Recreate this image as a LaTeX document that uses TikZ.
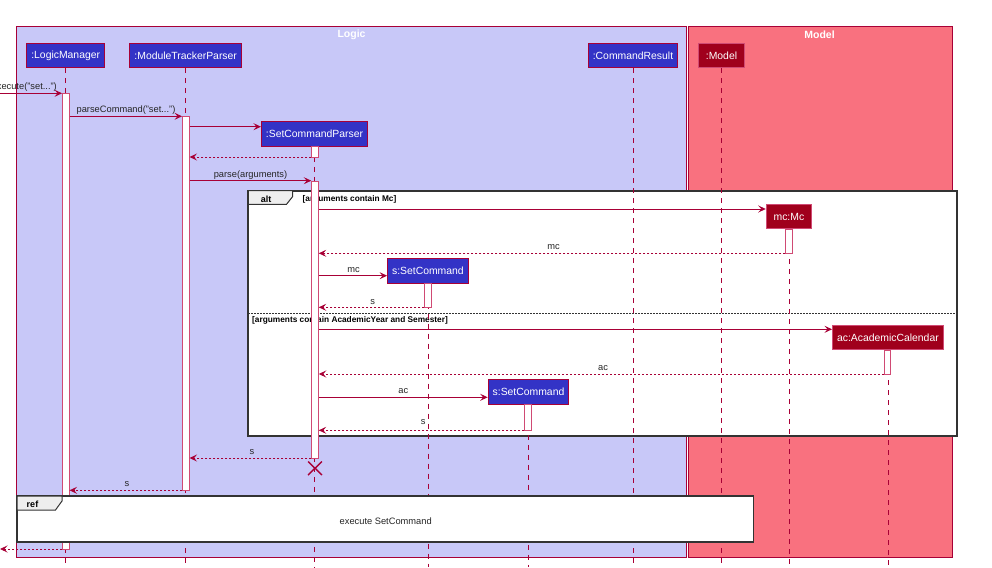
\documentclass[tikz,border=0pt]{standalone}
\usepackage{fontspec}
\setmainfont{Liberation Sans}
\usetikzlibrary{arrows.meta}
\definecolor{logicfill}{HTML}{C8C8F8}
\definecolor{modelfill}{HTML}{F9717F}
\definecolor{crim}{HTML}{A80036}
\definecolor{partblue}{HTML}{3333C6}
\definecolor{partred}{HTML}{A0001C}
\definecolor{actborder}{HTML}{D04A74}
\definecolor{framec}{HTML}{333333}
\definecolor{tabfill}{HTML}{EEEEEE}
\pgfdeclarelayer{bg}
\pgfdeclarelayer{frames}
\pgfdeclarelayer{top}
\pgfsetlayers{bg,frames,main,top}
\tikzset{
  grp/.style={draw=crim, line width=0.8pt},
  grplabel/.style={font=\fontsize{10.5}{12}\selectfont\bfseries, text=white, inner sep=0pt},
  partb/.style={draw=crim, fill=partblue, line width=1pt, text=white, font=\fontsize{10.4}{12}\selectfont, inner xsep=4.5pt, inner ysep=0pt, minimum height=24.5pt},
  partr/.style={draw=actborder, fill=partred, line width=1pt, text=white, font=\fontsize{10.4}{12}\selectfont, inner xsep=4.5pt, inner ysep=0pt, minimum height=24.5pt},
  life/.style={draw=crim, line width=0.8pt, dash pattern=on 5pt off 5pt},
  actbar/.style={draw=actborder, fill=white, line width=1pt, minimum width=6.5pt, inner sep=0pt, anchor=north},
  msg/.style={draw=crim, line width=0.9pt, -{Stealth[length=7.5pt,width=7pt,inset=3pt]}},
  ret/.style={msg, dash pattern=on 2pt off 2pt},
  mlabel/.style={font=\fontsize{9.3}{11}\selectfont, text=black!85, inner sep=0pt, anchor=base},
  frame/.style={draw=framec, line width=1.7pt, fill=white},
  tabs/.style={draw=framec, line width=1pt, fill=tabfill},
  guard/.style={font=\fontsize{8.3}{10}\selectfont\bfseries, text=black, inner sep=0pt, anchor=west},
  tablabel/.style={font=\fontsize{9}{10}\selectfont\bfseries, text=black, inner sep=0pt},
}
\begin{document}
\begin{tikzpicture}[x=1pt,y=-1pt]
\useasboundingbox (0,0) rectangle (992,567);

% groups
\begin{pgfonlayer}{bg}
  \draw[grp, fill=logicfill] (16.3,26) rectangle (686.7,557.7);
  \draw[grp, fill=modelfill] (688,26) rectangle (952.7,557.7);
  \node[grplabel] (logiclbl) at (351.5,34.5) {Logic};
  \node[grplabel] (modellbl) at (819.5,34.5) {Model};
\end{pgfonlayer}

% alt frame
\begin{pgfonlayer}{frames}
  \draw[frame] (248.3,190.7) rectangle (956.7,435.7);
  \draw[tabs] (248.3,190.7) -- (292.7,190.7) -- (292.7,196.5) -- (286.5,204.3) -- (248.3,204.3) -- cycle;
  \node[tablabel] (altlbl) at (266,199.5) {alt};
  \node[guard] (g1) at (302.5,199.7) {[arguments contain Mc]};
  \draw[draw=framec, line width=0.8pt, dash pattern=on 1.5pt off 1.5pt] (248.3,313.7) -- (956.7,313.7);
  \node[guard] (g2) at (252,320.7) {[arguments contain AcademicYear and Semester]};
\end{pgfonlayer}

% participants
\node[partb, minimum width=77pt]    (lm)  at (65.7,55.7)  {:LogicManager};
\node[partb, minimum width=110.3pt] (mtp) at (185.7,55.7) {:ModuleTrackerParser};
\node[partb, minimum width=103.4pt] (scp) at (314.5,134)  {:SetCommandParser};
\node[partb, minimum width=87pt]    (cr)  at (633,55.7)   {:CommandResult};
\node[partr, minimum width=46.6pt]  (mdl) at (721.5,55.7) {:Model};
\node[partr, minimum width=45.3pt]  (mc)  at (788.9,216.7) {mc:Mc};
\node[partb, minimum width=78.7pt]  (s1)  at (427.9,270.9) {s:SetCommand};
\node[partr, minimum width=109.3pt] (ac)  at (887.9,337.5) {ac:AcademicCalendar};
\node[partb, minimum width=78.6pt]  (s2)  at (528.5,392)  {s:SetCommand};

% lifelines
\foreach \p in {lm,mtp,scp,cr,mdl,mc,s1,ac,s2}{
  \draw[life] (\p.south) -- (\p.south |- 0,567);
}

% activations
\node[actbar, minimum height=455.7pt] (lmA)  at (65.8,93.3) {};
\node[actbar, minimum height=374pt]   (mtpA) at (185.8,116.3) {};
\node[actbar, minimum height=11pt]    (scpA1) at (315,146) {};
\node[actbar, minimum height=277.5pt] (scpA2) at (315,180.5) {};
\node[actbar, minimum height=24.3pt]  (mcA)  at (789,229) {};
\node[actbar, minimum height=24.3pt]  (s1A)  at (428,283) {};
\node[actbar, minimum height=24pt]    (acA)  at (887.6,350) {};
\node[actbar, minimum height=26.3pt]  (s2A)  at (528,404) {};

% destroy
\draw[draw=crim, line width=1.4pt] (308,461.5) -- (322,475) (322,461.5) -- (308,475);

% messages
\coordinate (extIn) at (0,93.3);
\coordinate (extOut) at (0,549);
\draw[msg] (extIn) -- (lmA.west |- 0,93.3);
\node[mlabel, anchor=base east] (l1) at (57,89.5) {execute("set...")};

\draw[msg] (lmA.east |- 0,116.3) -- (mtpA.west |- 0,116.3);
\node[mlabel] (l2) at (126,112.5) {parseCommand("set...")};

\draw[msg] (mtpA.east |- 0,126.7) -- (scp.west |- 0,126.7);

\draw[ret] (scpA1.west |- 0,157) -- (mtpA.east |- 0,157);

\draw[msg] (mtpA.east |- 0,180.7) -- (scpA2.west |- 0,180.7);
\node[mlabel] (l3) at (250.5,177) {parse(arguments)};

\draw[msg] (scpA2.east |- 0,209) -- (mc.west |- 0,209);

\draw[ret] (mcA.west |- 0,253.3) -- (scpA2.east |- 0,253.3);
\node[mlabel] (l4) at (553.5,249.5) {mc};

\draw[msg] (scpA2.east |- 0,275.7) -- (s1.west |- 0,275.7);
\node[mlabel] (l5) at (353.5,272) {mc};

\draw[ret] (s1A.west |- 0,307.3) -- (scpA2.east |- 0,307.3);
\node[mlabel] (l6) at (372.7,304.3) {s};

\draw[msg] (scpA2.east |- 0,329.3) -- (ac.west |- 0,329.3);

\draw[ret] (acA.west |- 0,374) -- (scpA2.east |- 0,374);
\node[mlabel] (l7) at (603,370.5) {ac};

\draw[msg] (scpA2.east |- 0,397.3) -- (s2.west |- 0,397.3);
\node[mlabel] (l8) at (403.3,393.5) {ac};

\draw[ret] (s2A.west |- 0,430.3) -- (scpA2.east |- 0,430.3);
\node[mlabel] (l9) at (423.3,424.5) {s};

\draw[ret] (scpA2.west |- 0,458) -- (mtpA.east |- 0,458);
\node[mlabel] (l10) at (252,454) {s};

\draw[ret] (mtpA.west |- 0,490.3) -- (lmA.east |- 0,490.3);
\node[mlabel] (l11) at (127,486.5) {s};

\draw[ret] (lmA.west |- 0,549) -- (extOut);

% ref frame
\begin{pgfonlayer}{top}
  \draw[frame] (17,496) rectangle (753.5,541.7);
  \draw[tabs] (17,496) -- (62,496) -- (62,501) -- (55.5,510) -- (17,510) -- cycle;
  \node[tablabel] (reflbl) at (32.5,504.5) {ref};
  \node[font=\fontsize{9.3}{11}\selectfont, text=black!85, inner sep=0pt] (reftxt) at (385.7,520.7) {execute SetCommand};
\end{pgfonlayer}
\end{tikzpicture}
\end{document}
